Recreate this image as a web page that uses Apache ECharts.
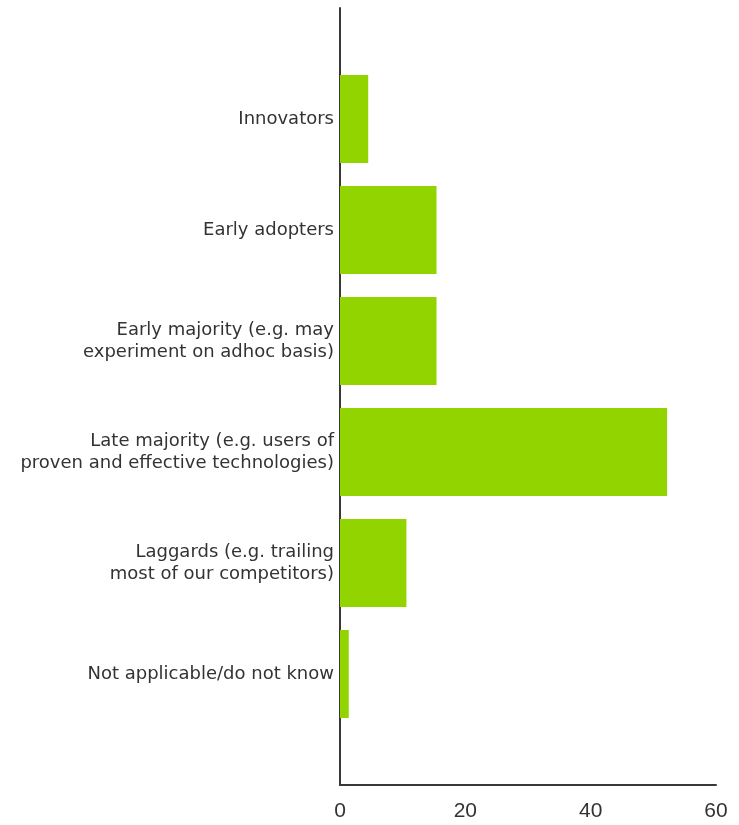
<!DOCTYPE html>
<html>
<head>
<meta charset="utf-8">
<script src="https://cdn.jsdelivr.net/npm/echarts@6/dist/echarts.min.js"></script>
<style>
  html, body { margin: 0; padding: 0; background: #fff; }
  #chart { width: 739px; height: 825px; }
</style>
</head>
<body>
<div id="chart"></div>
<script>
// empty slots at both ends keep the half-gap above the first and below the last bar
const categories = [
  '',
  'Innovators',
  'Early adopters',
  'Early majority (e.g. may\nexperiment on adhoc basis)',
  'Late majority (e.g. users of\nproven and effective technologies)',
  'Laggards (e.g. trailing\nmost of our competitors)',
  'Not applicable/do not know',
  ''
];
const values = [null, 4.5, 15.4, 15.4, 52.2, 10.6, 1.4, null];
const xTicks = [0, 20, 40, 60];

const chart = echarts.init(document.getElementById('chart'));
chart.setOption({
  animation: false,
  grid: { left: 340, right: 23, top: 8, bottom: 40, containLabel: false },
  xAxis: {
    type: 'value',
    min: xTicks[0],
    max: xTicks[xTicks.length - 1],
    interval: 20,
    axisLine: { show: true, lineStyle: { color: '#383838', width: 2 } },
    axisTick: { show: false },
    splitLine: { show: false },
    axisLabel: {
      color: '#333',
      fontSize: 21,
      fontFamily: 'Liberation Sans',
      margin: 16
    }
  },
  yAxis: {
    type: 'category',
    data: categories,
    inverse: true,
    boundaryGap: false,
    axisLine: { show: true, lineStyle: { color: '#383838', width: 2 } },
    axisTick: { show: false },
    splitLine: { show: false },
    axisLabel: {
      color: '#333',
      fontSize: 18,
      lineHeight: 22,
      fontFamily: 'DejaVu Sans',
      margin: 6,
      align: 'right'
    }
  },
  series: [{
    type: 'bar',
    data: values,
    barWidth: 88,
    itemStyle: { color: '#92d400' }
  }]
});
</script>
</body>
</html>
